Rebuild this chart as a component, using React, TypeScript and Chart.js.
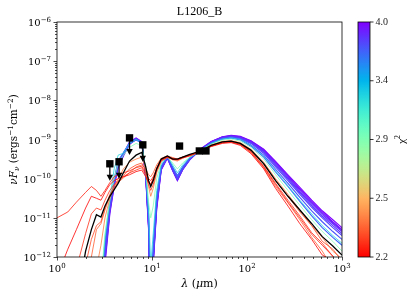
import React, { useEffect, useRef } from 'react';
import { Chart, registerables } from 'chart.js';

Chart.register(...registerables);

// Wavelength grid (micron) shared by all model SEDs
const WAVELENGTHS = [1, 1.3, 1.6, 2.0, 2.3, 2.6, 2.9, 3.2, 3.6, 4.0, 4.4, 5.0, 5.8, 6.8, 7.8, 8.6, 9.2, 9.7, 10.3, 11.2, 12.5, 14.5, 16.5, 18.5, 21, 25, 32, 42, 55, 68, 85, 110, 150, 200, 270, 360, 480, 620, 800, 1000];

// log10(nuFnu) of each model
const MODEL_B5 = [-14, -14, -14, -14, -14, -14, -13.3, -11.8, -10.7, -10.08, -9.62, -9.36, -9.06, -8.96, -9.05, -9.92, -11.2, -14, -12.1, -10.65, -9.72, -9.45, -9.76, -10.0, -9.74, -9.48, -9.25, -9.05, -8.93, -8.89, -8.92, -9.03, -9.25, -9.56, -9.9, -10.22, -10.55, -10.82, -11.05, -11.25];
const MODEL_B4 = [-14, -14, -14, -14, -14, -14, -13.6, -12.2, -10.9, -10.2, -9.72, -9.42, -9.12, -9.0, -9.1, -10.0, -11.3, -14, -12.2, -10.8, -9.78, -9.48, -9.8, -10.05, -9.78, -9.52, -9.27, -9.06, -8.94, -8.9, -8.93, -9.04, -9.26, -9.58, -9.92, -10.26, -10.58, -10.85, -11.1, -11.3];
const MODEL_B7 = [-14, -14, -14, -14, -14, -14, -13.5, -12.1, -10.85, -10.18, -9.7, -9.41, -9.11, -9.0, -9.09, -9.97, -11.25, -14, -12.15, -10.75, -9.77, -9.47, -9.79, -10.04, -9.77, -9.51, -9.26, -9.06, -8.94, -8.91, -8.94, -9.05, -9.28, -9.6, -9.95, -10.29, -10.61, -10.88, -11.12, -11.32];
const MODEL_B3 = [-14, -14, -14, -14, -14, -14, -13.4, -12.0, -10.8, -10.15, -9.68, -9.4, -9.1, -8.99, -9.08, -9.95, -11.2, -14, -12.1, -10.7, -9.75, -9.46, -9.78, -10.02, -9.76, -9.5, -9.27, -9.07, -8.95, -8.92, -8.95, -9.07, -9.3, -9.63, -9.98, -10.33, -10.65, -10.92, -11.15, -11.35];
const MODEL_B6 = [-14, -14, -14, -14, -14, -14, -13.3, -11.95, -10.78, -10.12, -9.66, -9.39, -9.09, -8.98, -9.07, -9.92, -11.15, -14, -12.05, -10.65, -9.74, -9.45, -9.77, -10.01, -9.76, -9.5, -9.27, -9.07, -8.96, -8.92, -8.96, -9.08, -9.32, -9.66, -10.01, -10.36, -10.69, -10.96, -11.2, -11.4];
const MODEL_B2 = [-14, -14, -14, -14, -14, -14, -13.2, -11.9, -10.75, -10.1, -9.65, -9.38, -9.08, -8.98, -9.06, -9.9, -11.1, -14, -12.0, -10.6, -9.72, -9.44, -9.75, -10.0, -9.75, -9.5, -9.28, -9.08, -8.97, -8.93, -8.97, -9.1, -9.35, -9.7, -10.05, -10.4, -10.73, -11.0, -11.25, -11.45];
const MODEL_B1 = [-14, -14, -14, -14, -14, -14, -13.0, -11.7, -10.65, -10.05, -9.6, -9.35, -9.1, -9.0, -9.08, -9.85, -10.9, -13.5, -11.8, -10.5, -9.7, -9.45, -9.72, -9.95, -9.72, -9.48, -9.28, -9.09, -8.98, -8.95, -8.99, -9.14, -9.4, -9.76, -10.12, -10.48, -10.82, -11.1, -11.35, -11.55];
const MODEL_B0 = [-14, -14, -14, -14, -14, -14, -12.9, -11.6, -10.6, -10.0, -9.55, -9.33, -9.1, -9.0, -9.1, -9.85, -10.9, -13.0, -11.7, -10.45, -9.68, -9.44, -9.7, -9.92, -9.7, -9.47, -9.28, -9.1, -8.99, -8.96, -9.01, -9.17, -9.45, -9.83, -10.2, -10.58, -10.95, -11.25, -11.5, -11.7];
const MODEL_C1 = [-14, -14, -14, -14, -14, -14, -12.8, -11.5, -10.5, -9.75, -9.4, -9.35, -9.1, -9.0, -9.08, -9.8, -10.8, -12.2, -11.4, -10.3, -9.62, -9.42, -9.65, -9.85, -9.65, -9.45, -9.28, -9.1, -8.99, -8.96, -9.0, -9.15, -9.43, -9.8, -10.18, -10.55, -10.9, -11.2, -11.45, -11.65];
const MODEL_G1 = [-14, -14, -14, -14, -14, -14, -12.6, -11.4, -10.55, -10.0, -9.6, -9.4, -9.2, -9.1, -9.15, -9.75, -10.6, -11.0, -10.7, -10.0, -9.6, -9.45, -9.6, -9.75, -9.6, -9.45, -9.3, -9.12, -9.02, -8.99, -9.04, -9.2, -9.5, -9.9, -10.3, -10.68, -11.05, -11.35, -11.6, -11.85];
const MODEL_R6 = [-14, -14, -14, -14, -14, -12.3, -11.7, -11.0, -10.5, -10.2, -10.0, -9.75, -9.58, -9.5, -9.45, -9.75, -10.2, -10.45, -10.25, -9.85, -9.55, -9.45, -9.52, -9.55, -9.48, -9.4, -9.3, -9.14, -9.05, -9.03, -9.08, -9.25, -9.58, -10.0, -10.4, -10.8, -11.2, -11.5, -11.85, -12.05];
const MODEL_R5 = [-14, -14, -14, -12.9, -12.0, -11.3, -11.15, -10.8, -10.45, -10.25, -10.1, -9.98, -9.85, -9.7, -9.65, -9.75, -9.9, -9.95, -9.85, -9.65, -9.48, -9.42, -9.46, -9.5, -9.45, -9.4, -9.3, -9.16, -9.08, -9.06, -9.13, -9.33, -9.72, -10.2, -10.62, -11.05, -11.5, -11.85, -12.3, -12.6];
const MODEL_R4 = [-14, -14, -13.3, -12.2, -11.55, -11.2, -11.1, -10.75, -10.4, -10.2, -10.08, -9.92, -9.75, -9.65, -9.6, -9.8, -10.05, -10.15, -10.0, -9.72, -9.5, -9.44, -9.48, -9.5, -9.45, -9.39, -9.3, -9.15, -9.06, -9.04, -9.1, -9.28, -9.62, -10.05, -10.45, -10.85, -11.2, -11.6, -11.8, -12.1];
const MODEL_R3 = [-14, -13.5, -12.3, -11.4, -10.9, -10.75, -10.8, -10.55, -10.3, -10.15, -10.05, -9.95, -9.85, -9.78, -9.72, -9.9, -10.15, -10.3, -10.15, -9.8, -9.55, -9.46, -9.5, -9.52, -9.46, -9.4, -9.31, -9.17, -9.08, -9.06, -9.12, -9.3, -9.68, -10.12, -10.55, -10.95, -11.38, -11.65, -11.98, -12.2];
const MODEL_R2 = [-12.5, -11.8, -11.3, -10.75, -10.45, -10.5, -10.55, -10.35, -10.15, -10.05, -10.0, -9.95, -9.9, -9.82, -9.78, -9.95, -10.1, -10.15, -10.0, -9.75, -9.52, -9.45, -9.5, -9.52, -9.47, -9.42, -9.32, -9.18, -9.1, -9.08, -9.15, -9.36, -9.75, -10.25, -10.7, -11.15, -11.55, -11.95, -12.1, -12.5];
const MODEL_R1 = [-11.0, -10.85, -10.6, -10.35, -10.2, -10.3, -10.45, -10.3, -10.1, -9.95, -9.9, -9.85, -9.8, -9.72, -9.68, -9.85, -10.0, -10.05, -9.95, -9.75, -9.52, -9.45, -9.48, -9.5, -9.45, -9.4, -9.3, -9.17, -9.08, -9.06, -9.12, -9.32, -9.7, -10.15, -10.6, -11.0, -11.42, -11.7, -11.98, -12.3];
const BEST_FIT = [-14, -14, -13.2, -11.85, -11.3, -10.92, -10.98, -10.7, -10.45, -10.28, -10.12, -9.85, -9.55, -9.4, -9.33, -9.7, -10.05, -10.2, -10.05, -9.75, -9.5, -9.42, -9.5, -9.5, -9.45, -9.38, -9.3, -9.15, -9.06, -9.04, -9.1, -9.27, -9.62, -10.05, -10.45, -10.8, -11.15, -11.48, -11.72, -11.95];

// chi^2 of each model (worst first, drawn underneath)
const MODEL_NAMES = ['B5', 'B4', 'B7', 'B3', 'B6', 'B2', 'B1', 'B0', 'C1', 'G1', 'R6', 'R5', 'R4', 'R3', 'R2', 'R1'];
const MODEL_CHI2 = [4.0, 3.96, 3.92, 3.88, 3.84, 3.8, 3.75, 3.7, 3.3, 2.95, 2.42, 2.36, 2.32, 2.28, 2.2, 2.25];
const MODEL_LOGFLUX = [MODEL_B5, MODEL_B4, MODEL_B7, MODEL_B3, MODEL_B6, MODEL_B2, MODEL_B1, MODEL_B0, MODEL_C1, MODEL_G1, MODEL_R6, MODEL_R5, MODEL_R4, MODEL_R3, MODEL_R2, MODEL_R1];

// Observed photometry
const OBS_WAVELENGTHS = [3.6, 4.5, 5.8, 8.0, 19.5, 31.5, 37.0];
const OBS_FLUX = [2.4e-10, 2.7e-10, 1.1e-9, 7.3e-10, 6.8e-10, 5.1e-10, 5.1e-10];
const OBS_UPPER_LIMIT = [true, true, true, true, false, false, false];

const X_DECADES = [0, 1, 2, 3];
const Y_DECADES = [-12, -11, -10, -9, -8, -7, -6];
const CHI2_MIN = 2.2;
const CHI2_MAX = 4.0;
const CBAR_LABELS = ['2.2', '2.5', '2.9', '3.4', '4.0'];

const TITLE = 'L1206_B';

function rainbow(t: number): string {
  const r = Math.min(1, Math.abs(2 * t - 0.5));
  const g = Math.sin(Math.PI * t);
  const b = Math.cos((Math.PI * t) / 2);
  return `rgb(${Math.round(r * 255)},${Math.round(g * 255)},${Math.round(b * 255)})`;
}
function chi2Color(c: number): string {
  let f = (Math.log(c) - Math.log(CHI2_MIN)) / (Math.log(CHI2_MAX) - Math.log(CHI2_MIN));
  f = Math.max(0, Math.min(1, f));
  return rainbow(1 - f);
}

type Part = { t: string; it?: boolean; pos?: 'sup' | 'sub' };
function richWidth(ctx: CanvasRenderingContext2D, parts: Part[], size: number, fam: string) {
  let w = 0;
  for (const p of parts) {
    const s = p.pos ? size * 0.7 : size;
    ctx.font = `${p.it ? 'italic ' : ''}${s}px ${fam}`;
    w += ctx.measureText(p.t).width;
  }
  return w;
}
function drawRich(ctx: CanvasRenderingContext2D, parts: Part[], x: number, y: number, size: number, fam: string, align: 'left' | 'center' | 'right') {
  const w = richWidth(ctx, parts, size, fam);
  let cx = align === 'left' ? x : align === 'center' ? x - w / 2 : x - w;
  ctx.textAlign = 'left';
  ctx.textBaseline = 'alphabetic';
  for (const p of parts) {
    const s = p.pos ? size * 0.7 : size;
    ctx.font = `${p.it ? 'italic ' : ''}${s}px ${fam}`;
    const dy = p.pos === 'sup' ? -size * 0.42 : p.pos === 'sub' ? size * 0.22 : 0;
    ctx.fillText(p.t, cx, y + dy);
    cx += ctx.measureText(p.t).width;
  }
}

const TICK_FONT = '"DejaVu Serif", serif';
const SERIF = '"Liberation Serif", "Times New Roman", serif';

const decorPlugin = {
  id: 'sedDecor',
  afterDraw(chart: any) {
    const { ctx, chartArea: a } = chart;
    const xs = chart.scales.x;
    const ys = chart.scales.y;
    ctx.save();

    // upper-limit arrows
    ctx.strokeStyle = '#000';
    ctx.fillStyle = '#000';
    ctx.lineWidth = 1.3;
    OBS_WAVELENGTHS.forEach((lam, i) => {
      if (!OBS_UPPER_LIMIT[i]) return;
      const px = xs.getPixelForValue(lam);
      const py = ys.getPixelForValue(OBS_FLUX[i]);
      ctx.beginPath();
      ctx.moveTo(px, py);
      ctx.lineTo(px, py + 12);
      ctx.stroke();
      ctx.beginPath();
      ctx.moveTo(px - 3.2, py + 11);
      ctx.lineTo(px + 3.2, py + 11);
      ctx.lineTo(px, py + 17);
      ctx.closePath();
      ctx.fill();
    });

    // frame
    ctx.lineWidth = 0.8;
    ctx.strokeStyle = '#000';
    ctx.strokeRect(a.left, a.top, a.right - a.left, a.bottom - a.top);

    // x ticks
    ctx.lineWidth = 0.7;
    for (const e of X_DECADES) {
      for (let m = 1; m <= 9; m++) {
        const v = m * Math.pow(10, e);
        if (v > 1000) break;
        const px = Math.round(xs.getPixelForValue(v)) + 0.5;
        const len = m === 1 ? 3.5 : 2;
        ctx.beginPath();
        ctx.moveTo(px, a.bottom);
        ctx.lineTo(px, a.bottom + len);
        ctx.stroke();
      }
    }
    // y ticks
    for (const e of Y_DECADES) {
      for (let m = 1; m <= 9; m++) {
        const v = m * Math.pow(10, e);
        if (v > 1.0000001e-6) break;
        const py = Math.round(ys.getPixelForValue(v)) + 0.5;
        const len = m === 1 ? 3.5 : 2;
        ctx.beginPath();
        ctx.moveTo(a.left, py);
        ctx.lineTo(a.left - len, py);
        ctx.stroke();
      }
    }

    // tick labels
    ctx.fillStyle = '#000';
    for (const e of X_DECADES) {
      const px = xs.getPixelForValue(Math.pow(10, e));
      drawRich(ctx, [{ t: '10' }, { t: String(e).replace('-', '\u2212'), pos: 'sup' }], px, a.bottom + 15, 10, TICK_FONT, 'center');
    }
    for (const e of Y_DECADES) {
      const py = ys.getPixelForValue(Math.pow(10, e));
      drawRich(ctx, [{ t: '10' }, { t: String(e).replace('-', '\u2212'), pos: 'sup' }], a.left - 6, py + 4, 10, TICK_FONT, 'right');
    }

    // axis labels
    drawRich(ctx, [{ t: '\u03bb', it: true }, { t: ' (' }, { t: '\u03bc', it: true }, { t: 'm)' }], (a.left + a.right) / 2, 287, 11, TICK_FONT, 'center');
    ctx.save();
    ctx.translate(17, (a.top + a.bottom) / 2);
    ctx.rotate(-Math.PI / 2);
    drawRich(ctx, [
      { t: '\u03bdF', it: true }, { t: '\u03bd', it: true, pos: 'sub' }, { t: ' (ergs' }, { t: '\u22121', pos: 'sup' },
      { t: 'cm' }, { t: '\u22122', pos: 'sup' }, { t: ')' }
    ], 0, 0, 10.5, TICK_FONT, 'center');
    ctx.restore();

    // title
    ctx.font = `12px ${SERIF}`;
    ctx.textAlign = 'center';
    ctx.textBaseline = 'alphabetic';
    ctx.fillText(TITLE, (a.left + a.right) / 2, 15);

    // colorbar
    const cx0 = 358, cx1 = 370;
    const grad = ctx.createLinearGradient(0, a.bottom, 0, a.top);
    for (let k = 0; k <= 40; k++) {
      const f = k / 40;
      grad.addColorStop(f, rainbow(1 - f));
    }
    ctx.fillStyle = grad;
    ctx.fillRect(cx0, a.top, cx1 - cx0, a.bottom - a.top);
    ctx.strokeStyle = '#000';
    ctx.lineWidth = 0.8;
    ctx.strokeRect(cx0, a.top, cx1 - cx0, a.bottom - a.top);
    ctx.fillStyle = '#222';
    ctx.font = `10px ${SERIF}`;
    ctx.textAlign = 'left';
    ctx.textBaseline = 'middle';
    CBAR_LABELS.forEach((lab, i) => {
      const y = a.bottom - (i / (CBAR_LABELS.length - 1)) * (a.bottom - a.top);
      ctx.beginPath();
      ctx.moveTo(cx1, y);
      ctx.lineTo(cx1 + 3.5, y);
      ctx.stroke();
      ctx.fillText(lab, cx1 + 5.5, y);
    });
    ctx.save();
    ctx.translate(401, (a.top + a.bottom) / 2);
    ctx.rotate(-Math.PI / 2);
    ctx.fillStyle = '#000';
    drawRich(ctx, [{ t: '\u03c7' }, { t: '2', pos: 'sup' }], 0, 4, 11, SERIF, 'center');
    ctx.restore();

    ctx.restore();
  },
};

export default function App() {
  const ref = useRef<HTMLCanvasElement | null>(null);
  useEffect(() => {
    if (!ref.current) return;
    const modelSets = MODEL_LOGFLUX.map((arr, k) => ({
      type: 'line' as const,
      label: MODEL_NAMES[k],
      data: WAVELENGTHS.map((w, i) => ({ x: w, y: Math.pow(10, arr[i]) })),
      borderColor: chi2Color(MODEL_CHI2[k]),
      borderWidth: MODEL_CHI2[k] > 3.5 ? 1.1 : 0.8,
      pointRadius: 0,
      tension: 0,
      order: 100 - k,
    }));
    const chart = new Chart(ref.current, {
      type: 'line',
      data: {
        datasets: [
          ...modelSets,
          {
            type: 'line',
            label: 'best',
            data: WAVELENGTHS.map((w, i) => ({ x: w, y: Math.pow(10, BEST_FIT[i]) })),
            borderColor: '#000',
            borderWidth: 1.3,
            pointRadius: 0,
            tension: 0,
            order: 2,
          },
          {
            type: 'scatter',
            label: 'obs',
            data: OBS_WAVELENGTHS.map((w, i) => ({ x: w, y: OBS_FLUX[i] })),
            pointStyle: 'rect',
            pointRadius: 5.2,
            backgroundColor: '#000',
            borderColor: '#000',
            borderWidth: 0,
            order: 1,
          },
        ] as any,
      },
      options: {
        responsive: false,
        animation: false,
        devicePixelRatio: 1,
        layout: { padding: { left: 0, top: 22, right: 73, bottom: 0 } },
        plugins: { legend: { display: false }, title: { display: false }, tooltip: { enabled: false } },
        scales: {
          x: {
            type: 'logarithmic',
            min: 1,
            max: 1000,
            grid: { display: false },
            border: { display: false },
            ticks: { display: false },
            afterFit: (s: any) => { s.height = 41; },
          },
          y: {
            type: 'logarithmic',
            min: 1e-12,
            max: 1e-6,
            grid: { display: false },
            border: { display: false },
            ticks: { display: false },
            afterFit: (s: any) => { s.width = 57; },
          },
        },
      } as any,
      plugins: [decorPlugin],
    });
    return () => chart.destroy();
  }, []);
  return (
    <div style={{ position: 'fixed', left: 0, top: 0, width: 415, height: 298, background: '#fff' }}>
      <canvas ref={ref} width={415} height={298} style={{ display: 'block' }} />
    </div>
  );
}
